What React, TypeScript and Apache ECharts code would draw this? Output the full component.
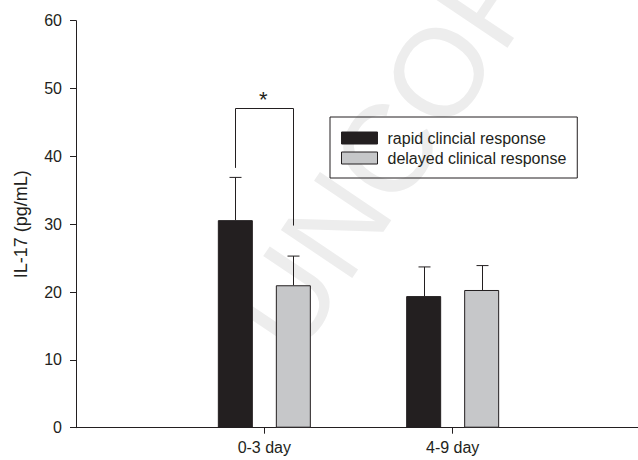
import React, { useEffect, useRef } from "react";
import * as echarts from "echarts";

const groups = ["0-3 day", "4-9 day"];
const rapidMean = [30.6, 19.4];
const rapidUpper = [36.9, 23.7];
const delayedMean = [21.0, 20.3];
const delayedUpper = [25.3, 23.9];
const yTicks = [0, 10, 20, 30, 40, 50, 60];
// significance bracket: group, left leg bottom, bracket top, right leg bottom, star level
const bracketGroup = "0-3 day";
const bracketLeftBottom = 38.3;
const bracketTop = 47.2;
const bracketRightBottom = 29.8;
const starLevel = 48.4;

const INK = "#231f20";
const GREY = "#c6c7c9";
const FONT = '"Liberation Sans", Arial, sans-serif';

export default function App() {
  const ref = useRef<HTMLDivElement>(null);
  useEffect(() => {
    if (!ref.current) return;
    const chart = echarts.init(ref.current, undefined, { renderer: "svg" });
    const categories = ["", ...groups, ""];
    const pad = (arr: number[]) => ["-", ...arr, "-"];
    const OFFSET = 29;
    const CAP = 6;

    const errSeries = (name: string, means: number[], uppers: number[], off: number) => ({
      type: "custom",
      name: name + " error",
      z: 5,
      silent: true,
      data: groups.map((g, i) => [g, means[i], uppers[i]]),
      encode: { x: 0, y: [1, 2] },
      renderItem: (_p: any, api: any) => {
        const x = api.value(0);
        const pm = api.coord([x, api.value(1)]);
        const pu = api.coord([x, api.value(2)]);
        const cx = Math.round(pm[0] + off) + 0.5;
        return {
          type: "group",
          children: [
            { type: "line", shape: { x1: cx, y1: pm[1], x2: cx, y2: pu[1] }, style: { stroke: INK, lineWidth: 1 } },
            { type: "line", shape: { x1: cx - CAP, y1: pu[1], x2: cx + CAP, y2: pu[1] }, style: { stroke: INK, lineWidth: 1 } },
          ],
        };
      },
    });

    const option: any = {
      animation: false,
      textStyle: { fontFamily: FONT },
      grid: {
        left: 76,
        top: 20.7,
        bottom: 32.3,
        width: 565,
        containLabel: false,
        outerBoundsMode: "none",
      },
      legend: {
        orient: "vertical",
        left: 330,
        top: 117,
        itemWidth: 36,
        itemHeight: 12,
        itemGap: 4,
        borderColor: INK,
        borderWidth: 1,
        padding: [13, 11, 12, 11],
        icon: "rect",
        textStyle: { fontFamily: FONT, fontSize: 16, color: INK, padding: [0, 0, 0, 5] },
        data: [
          { name: "rapid clincial response", itemStyle: { color: INK, borderColor: INK, borderWidth: 1 } },
          { name: "delayed clinical response", itemStyle: { color: GREY, borderColor: INK, borderWidth: 1 } },
        ],
      },
      xAxis: {
        type: "category",
        data: categories,
        boundaryGap: false,
        axisLine: { show: true, lineStyle: { color: INK, width: 1 } },
        axisTick: {
          show: true,
          length: 6,
          lineStyle: { color: INK },
          interval: (index: number) => index === 1 || index === 2,
        },
        axisLabel: { interval: 0, fontSize: 16, color: INK, fontFamily: FONT, margin: 12 },
        splitLine: { show: false },
      },
      yAxis: {
        type: "value",
        min: yTicks[0],
        max: yTicks[yTicks.length - 1],
        interval: 10,
        name: "IL-17 (pg/mL)",
        nameLocation: "middle",
        nameGap: 46,
        nameTextStyle: { fontSize: 18, color: INK, fontFamily: FONT },
        axisLine: { show: true, lineStyle: { color: INK, width: 1 } },
        axisTick: { show: true, length: 6, lineStyle: { color: INK } },
        axisLabel: { fontSize: 16, color: INK, fontFamily: FONT, margin: 14 },
        splitLine: { show: false },
      },
      graphic: [
        {
          type: "text",
          z: -10,
          silent: true,
          x: 260,
          y: 337,
          rotation: (56 * Math.PI) / 180,
          style: {
            text: "UNCORRECTED PROOF",
            font: '125px "Liberation Sans", Arial, sans-serif',
            fill: "#ededed",
            align: "left",
            verticalAlign: "middle",
          },
        },
      ],
      series: [
        {
          type: "bar",
          name: "rapid clincial response",
          data: pad(rapidMean),
          barWidth: 35,
          barGap: "65.7%",
          itemStyle: { color: INK, borderColor: INK, borderWidth: 1 },
          z: 3,
        },
        {
          type: "bar",
          name: "delayed clinical response",
          data: pad(delayedMean),
          barWidth: 35,
          barGap: "65.7%",
          itemStyle: { color: GREY, borderColor: INK, borderWidth: 1 },
          z: 3,
        },
        errSeries("rapid", rapidMean, rapidUpper, -OFFSET),
        errSeries("delayed", delayedMean, delayedUpper, OFFSET),
        {
          type: "custom",
          name: "significance",
          z: 5,
          silent: true,
          data: [[bracketGroup, bracketLeftBottom, bracketTop, bracketRightBottom, starLevel]],
          encode: { x: 0, y: [1, 2, 3, 4] },
          renderItem: (_p: any, api: any) => {
            const x = api.value(0);
            const pl = api.coord([x, api.value(1)]);
            const pt = api.coord([x, api.value(2)]);
            const pr = api.coord([x, api.value(3)]);
            const ps = api.coord([x, api.value(4)]);
            const lx = Math.round(pl[0] - OFFSET) + 0.5;
            const rx = Math.round(pl[0] + OFFSET) + 0.5;
            const ty = Math.round(pt[1]) + 0.5;
            return {
              type: "group",
              children: [
                {
                  type: "polyline",
                  shape: { points: [[lx, pl[1]], [lx, ty], [rx, ty], [rx, pr[1]]] },
                  style: { stroke: INK, lineWidth: 1, fill: "none" },
                },
                {
                  type: "text",
                  style: {
                    text: "*",
                    x: ps[0] - 1,
                    y: ps[1],
                    align: "center",
                    verticalAlign: "middle",
                    font: '22px "Liberation Sans", Arial, sans-serif',
                    fill: INK,
                  },
                },
              ],
            };
          },
        },
      ],
    };
    chart.setOption(option);
    return () => chart.dispose();
  }, []);
  return (
    <div
      ref={ref}
      style={{ position: "fixed", left: 0, top: 0, width: 638, height: 460, background: "#fff" }}
    />
  );
}
